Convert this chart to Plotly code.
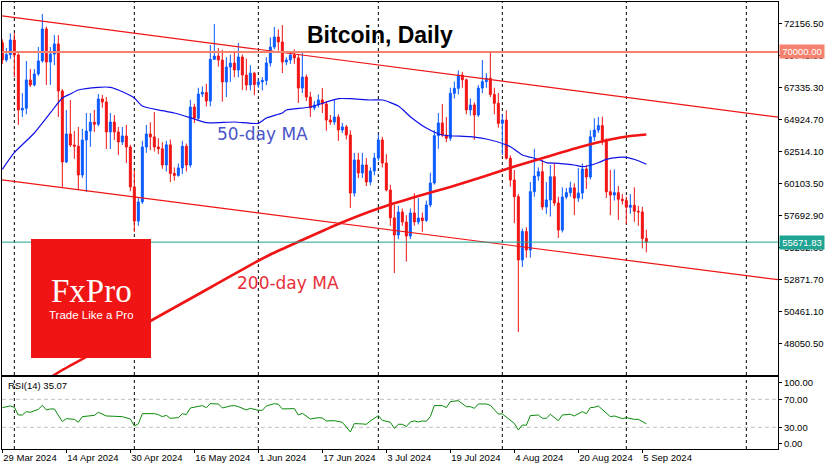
import pandas as pd
import plotly.graph_objects as go

# ---------------- data ----------------
start_date = "2024-03-29"

opens = [70700, 69400, 69800, 70900, 69770, 65630, 65750, 67890, 67510, 68340,
         69320, 71730, 69240, 69840, 70600, 67060, 61710, 63820, 62990, 62900,
         60730, 63370, 64040, 64700, 64550, 66460, 66230, 63970, 64720, 63970,
         63220, 63670, 62840, 59830, 57260, 58700, 62840, 63820, 63600, 62840,
         62700, 61480, 63000, 60850, 60700, 61260, 62900, 61480, 65850, 65000,
         66830, 66950, 66300, 69440, 69690, 69390, 67740, 68860, 69160, 68640,
         69620, 68260, 67510, 68400, 67550, 67740, 67850, 69170, 70370, 71120,
         70750, 69240, 69390, 69770, 69550, 67280, 68110, 66600, 65780, 66000,
         66380, 66080, 64870, 64720, 65100, 64120, 64350, 63740, 59370, 61860,
         60880, 61480, 60200, 61030, 62010, 63370, 61630, 59600, 57500, 56210,
         57940, 57190, 56130, 57870, 57190, 57490, 57300, 58470, 60130, 63690,
         64650, 63740, 63500, 66880, 67260, 68260, 67900, 65630, 66000, 65250,
         67280, 67760, 68020, 66800, 66130, 64620, 64870, 61990, 60350, 59100,
         54330, 56470, 55080, 59470, 60650, 60980, 58320, 58850, 60600, 58620,
         56580, 59070, 59400, 59760, 58990, 59370, 61180, 60580, 63610, 64120,
         64450, 63370, 59470, 59220, 59400, 58900, 58800, 58300, 58450, 58000,
         57950, 55950]
highs = [70950, 70300, 71400, 71430, 69900, 66900, 69320, 68710, 68710, 70370,
         72860, 71900, 70370, 71270, 71270, 67200, 65630, 66380, 64050, 64350,
         64200, 65400, 65400, 65630, 66830, 66760, 66600, 65400, 65250, 64350,
         64350, 64500, 63000, 61100, 59000, 63300, 64500, 64700, 65470, 63500,
         63200, 63300, 63400, 61300, 61600, 63300, 63100, 66400, 66100, 67300,
         67400, 67600, 70520, 72100, 70300, 70150, 69600, 69800, 70000, 70670,
         69800, 69500, 69000, 68500, 67950, 68100, 69600, 71100, 71880, 71700,
         72030, 69600, 70000, 70200, 69800, 69920, 68300, 67000, 66300, 66800,
         67280, 66300, 65250, 66380, 65300, 64650, 64500, 64100, 62390, 62390,
         62390, 62000, 61300, 62390, 63820, 63600, 62300, 60000, 58500, 58400,
         58200, 57700, 58200, 59370, 58990, 57900, 58800, 60900, 64100, 65400,
         66080, 65100, 67300, 67760, 68600, 68500, 68000, 66500, 66200, 67500,
         69390, 68400, 70000, 67300, 66900, 65300, 65600, 62200, 61100, 59300,
         56700, 56800, 60200, 62700, 61300, 61860, 60200, 61480, 61630, 59100,
         59800, 59750, 60230, 60100, 61260, 61600, 61480, 64100, 65000, 65100,
         65120, 63500, 61110, 61150, 59900, 59300, 59100, 59300, 59800, 58400,
         58330, 56600]
lows = [69100, 69250, 69470, 68100, 64500, 65100, 65300, 67360, 67400, 68200,
        69200, 67510, 67510, 69000, 65100, 59830, 61630, 62840, 61950, 59600,
        60500, 59450, 62850, 63970, 64400, 65800, 62690, 62690, 63370, 62240,
        63000, 61630, 59500, 56440, 56900, 58550, 62400, 62600, 62500, 62300,
        61200, 61000, 60200, 60300, 60600, 60800, 61000, 61300, 64650, 64900,
        66600, 65900, 65900, 69390, 68900, 66250, 66600, 67740, 68100, 68100,
        67130, 67100, 67100, 66740, 67300, 67100, 67500, 68900, 70200, 70100,
        68410, 69000, 69100, 69100, 66150, 66900, 66300, 65100, 65600, 65800,
        65400, 64060, 64500, 64500, 63300, 63900, 63400, 58250, 59100, 60500,
        60500, 59900, 59950, 60700, 61800, 61300, 59500, 56900, 53350, 55900,
        56900, 54200, 55900, 56900, 57000, 56440, 57200, 58300, 60000, 62700,
        63600, 63200, 63300, 66500, 66800, 67300, 65300, 65200, 63370, 65100,
        66900, 67300, 66600, 65300, 64300, 62240, 61900, 59850, 57100, 48900,
        53800, 54500, 54500, 59100, 60300, 58100, 57800, 57600, 58400, 55980,
        56400, 58900, 59100, 57710, 58700, 58900, 59680, 60400, 63300, 63900,
        63000, 59000, 57700, 58800, 57350, 58500, 57050, 57800, 57200, 56900,
        55200, 54900]
closes = [69400, 69800, 70900, 69770, 65630, 65750, 67890, 67510, 68340, 69320,
          71730, 69240, 69840, 70600, 67060, 61710, 63820, 62990, 62900, 60730,
          63370, 64040, 64700, 64550, 66460, 66230, 63970, 64720, 63970, 63220,
          63670, 62840, 59830, 57260, 58700, 62840, 63820, 63600, 62840, 62700,
          61480, 63000, 60850, 60700, 61260, 62900, 61480, 65850, 65000, 66830,
          66950, 66300, 69440, 69690, 69390, 67740, 68860, 69160, 68640, 69620,
          68260, 67510, 68400, 67550, 67740, 67850, 69170, 70370, 71120, 70750,
          69240, 69390, 69770, 69550, 67280, 68110, 66600, 65780, 66000, 66380,
          66080, 64870, 64720, 65100, 64120, 64350, 63740, 59370, 61860, 60880,
          61480, 60200, 61030, 62010, 63370, 61630, 59600, 57500, 56210, 57940,
          57190, 56130, 57870, 57190, 57490, 57300, 58470, 60130, 63690, 64650,
          63740, 63500, 66880, 67260, 68260, 67900, 65630, 66000, 65250, 67280,
          67760, 68020, 66800, 66130, 64620, 64870, 61990, 60350, 59100, 54330,
          56470, 55080, 59470, 60650, 60980, 58320, 58850, 60600, 58620, 56580,
          59070, 59400, 59760, 58990, 59370, 61180, 60580, 63610, 64120, 64450,
          63370, 59470, 59220, 59400, 58900, 58800, 58300, 58450, 58000, 57950,
          55950, 55671.83]

# moving averages (day index from start_date, price)
ma50_day = [0, 3, 8, 12, 15, 17, 19, 24, 27, 29, 33, 35, 40, 43, 48, 51, 58, 64,
            66, 70, 71, 77, 84, 87, 92, 95, 99, 102, 106, 110, 117, 122, 127,
            130, 134, 136, 139, 143, 145, 149, 151, 154, 156, 159, 161]
ma50_val = [61158, 62409, 63893, 65405, 66529, 66831, 67132, 67335, 67335, 67132,
            66529, 65927, 65573, 65400, 64948, 64669, 64721, 64624, 65023, 65400,
            65626, 65852, 66477, 66477, 66379, 66379, 65927, 65121, 64270, 63742,
            63614, 63365, 62861, 62236, 61912, 61656, 61611, 61482, 61354, 61656,
            61912, 62063, 62063, 61807, 61535]
ma200_day = [12, 15, 25, 37, 50, 62, 67, 75, 84, 94, 104, 112, 120, 128, 136,
             144, 152, 157, 161]
ma200_val = [45474, 46040, 47697, 49731, 51915, 53949, 54740, 55832, 57038, 58205,
             59147, 59825, 60578, 61369, 62085, 62800, 63403, 63666, 63779]

# RSI(14)
rsi_day = [0, 2, 3, 4, 5, 6, 7, 8, 9, 10, 11, 12, 13, 15, 16, 18, 19, 20, 22, 23,
           24, 26, 28, 30, 32, 33, 34, 35, 38, 39, 40, 41, 42, 44, 45, 46, 47, 49,
           50, 51, 52, 54, 55, 57, 58, 59, 61, 62, 64, 65, 66, 68, 69, 70, 73, 74,
           75, 77, 79, 80, 81, 83, 84, 85, 87, 88, 90, 91, 92, 94, 95, 97, 98, 99,
           100, 101, 102, 103, 104, 105, 106, 107, 108, 110, 111, 112, 114, 116,
           117, 118, 119, 121, 122, 124, 125, 127, 128, 129, 130, 131, 132, 134,
           135, 136, 137, 139, 140, 142, 143, 145, 146, 147, 148, 149, 152, 153,
           155, 156, 158, 159, 161]
rsi_val = [58.1, 60.5, 58.6, 47.6, 47.6, 52.4, 51.4, 53.8, 55.7, 61.4, 54.8, 56.2,
           56.2, 38.1, 42.4, 41.4, 37.2, 45.2, 47.1, 47.1, 51.4, 46.2, 45.7, 45.2,
           41.9, 31.9, 34.8, 49.5, 49.5, 48.1, 45.2, 47.1, 42.9, 43.8, 49.5, 48.1,
           57.6, 59.5, 61.0, 58.1, 63.8, 63.3, 57.6, 60.5, 61.0, 59.5, 54.8, 57.1,
           54.3, 54.3, 60.5, 63.8, 62.9, 56.2, 56.7, 47.6, 50.0, 41.9, 43.8, 43.3,
           39.1, 39.5, 38.1, 37.2, 23.4, 35.3, 34.8, 34.3, 39.1, 46.7, 40.0, 37.2,
           28.6, 34.3, 34.3, 31.0, 37.6, 39.1, 37.6, 39.1, 38.6, 45.2, 61.0, 61.0,
           58.1, 66.7, 68.1, 59.5, 59.5, 57.1, 63.3, 63.3, 61.4, 49.0, 49.0, 39.5,
           35.7, 26.2, 33.3, 32.9, 46.7, 47.6, 42.9, 42.9, 48.6, 39.5, 47.6, 48.6,
           46.2, 52.4, 49.5, 58.1, 58.6, 60.5, 45.2, 46.2, 42.4, 43.8, 41.4, 41.4,
           35.07]

price_ticks = [72156.5, 69745.9, 67335.3, 64924.7, 62514.1, 60103.5, 57692.9,
               55282.3, 52871.7, 50461.1, 48050.5]
date_ticks = ["2024-03-29", "2024-04-14", "2024-04-30", "2024-05-16", "2024-06-01",
              "2024-06-17", "2024-07-03", "2024-07-19", "2024-08-04", "2024-08-20",
              "2024-09-05"]
date_tick_labels = ["29 Mar 2024", "14 Apr 2024", "30 Apr 2024", "16 May 2024",
                    "1 Jun 2024", "17 Jun 2024", "3 Jul 2024", "19 Jul 2024",
                    "4 Aug 2024", "20 Aug 2024", "5 Sep 2024"]
month_starts = ["2024-04-01", "2024-05-01", "2024-06-01", "2024-07-01",
                "2024-08-01", "2024-09-01", "2024-10-01"]
level_price = 70000.0
last_price = 55671.83
channel_dates = ["2024-03-28 22:00", "2024-10-08 22:00"]
channel_upper = [72714, 65090]
channel_lower = [60360, 52842]
rsi_levels = [70, 30]
rsi_tickvals = [93.7, 70, 30, 7.1]
rsi_ticktext = ["100.00", "70.00", "30.00", "0.00"]
x_range = ["2024-03-28 22:00", "2024-10-08 22:00"]
y_range = [45662, 73761]
rsi_range = [-1.0, 101.9]

# ---------------- figure ----------------
t0 = pd.Timestamp(start_date)
dates = pd.date_range(start_date, periods=len(closes), freq="D")
ma50_x = [t0 + pd.Timedelta(days=d) for d in ma50_day]
ma200_x = [t0 + pd.Timedelta(days=d) for d in ma200_day]
rsi_x = [t0 + pd.Timedelta(days=d) for d in rsi_day]

BULL = "#0a5aff"
BEAR = "#f01414"
FONT = "Liberation Sans"

fig = go.Figure()

fig.add_trace(go.Candlestick(
    x=dates, open=opens, high=highs, low=lows, close=closes,
    increasing=dict(line=dict(color=BULL, width=1), fillcolor=BULL),
    decreasing=dict(line=dict(color=BEAR, width=1), fillcolor=BEAR),
    xaxis="x", yaxis="y", showlegend=False, hoverinfo="skip"))

fig.add_trace(go.Scatter(x=ma50_x, y=ma50_val, mode="lines",
                         line=dict(color="#1010e8", width=1.2, shape="spline", smoothing=0.6),
                         xaxis="x", yaxis="y", showlegend=False, hoverinfo="skip"))
fig.add_trace(go.Scatter(x=ma200_x, y=ma200_val, mode="lines",
                         line=dict(color="#f01414", width=2.6, shape="spline", smoothing=0.6),
                         xaxis="x", yaxis="y", showlegend=False, hoverinfo="skip"))
for ch in (channel_upper, channel_lower):
    fig.add_trace(go.Scatter(x=channel_dates, y=ch, mode="lines",
                             line=dict(color="#f01414", width=1.2),
                             xaxis="x", yaxis="y", showlegend=False, hoverinfo="skip"))

fig.add_trace(go.Scatter(x=rsi_x, y=rsi_val, mode="lines",
                         line=dict(color="#0a8a0a", width=1),
                         xaxis="x2", yaxis="y2", showlegend=False, hoverinfo="skip"))

shapes = []
for d in month_starts:
    for yr in ("y domain", "y2 domain"):
        shapes.append(dict(type="line", xref="x", yref=yr, x0=d, x1=d, y0=0, y1=1,
                           line=dict(color="black", width=1, dash="3px,3px"), layer="below"))
for lv in rsi_levels:
    shapes.append(dict(type="line", xref="x domain", yref="y2", x0=0, x1=1, y0=lv, y1=lv,
                       line=dict(color="#c0c0c0", width=1, dash="4px,3px"), layer="below"))
shapes.append(dict(type="line", xref="x domain", yref="y", x0=0, x1=1,
                   y0=level_price, y1=level_price,
                   line=dict(color="#f5826f", width=2), layer="above"))
shapes.append(dict(type="line", xref="x domain", yref="y", x0=0, x1=1,
                   y0=last_price, y1=last_price,
                   line=dict(color="#1fa393", width=1), layer="above"))
# FxPro logo block
shapes.append(dict(type="rect", xref="paper", yref="paper", x0=0.0374, x1=0.192,
                   y0=0.2036, y1=0.4698, fillcolor="#f01414", line=dict(width=0),
                   layer="above"))


def label(text, x, y, size, color, family=FONT, xanchor="center", **kw):
    return dict(text=text, xref="paper", yref="paper", x=x, y=y, xanchor=xanchor,
                yanchor="middle", showarrow=False,
                font=dict(family=family, size=size, color=color), **kw)


annotations = [
    label("<b>Bitcoin, Daily</b>", 0.487, 0.926, 23, "black"),
    label("50-day MA", 0.3363, 0.7047, 17, "#4a55c8", family="DejaVu Sans"),
    label("200-day MA", 0.3686, 0.3714, 17, "#e8303a", family="DejaVu Sans"),
    label("FxPro", 0.1147, 0.3535, 33, "white", family="Liberation Serif", height=32),
    label("Trade Like a Pro", 0.1147, 0.300, 11.5, "white", height=13),
    label("RSI(14) 35.07", 0.0048, 0.141, 9.5, "black", xanchor="left"),
    dict(text="70000.00", xref="paper", yref="y", x=1.0, y=level_price, xanchor="left",
         yanchor="middle", xshift=1, showarrow=False, bgcolor="#f5826f", borderpad=1,
         width=42, font=dict(family=FONT, size=9.5, color="white")),
    dict(text="55671.83", xref="paper", yref="y", x=1.0, y=last_price, xanchor="left",
         yanchor="middle", xshift=1, showarrow=False, bgcolor="#1fa393", borderpad=1,
         width=42, font=dict(family=FONT, size=9.5, color="white")),
]

axis_common = dict(showgrid=False, zeroline=False, showline=True, mirror=True,
                   linecolor="black", linewidth=1)

fig.update_layout(
    width=835, height=470,
    margin=dict(l=2, r=57, t=2, b=21),
    paper_bgcolor="white", plot_bgcolor="white",
    showlegend=False,
    font=dict(family=FONT, size=9.5, color="black"),
    xaxis=dict(domain=[0, 1], anchor="y", type="date", range=x_range,
               showticklabels=False, ticks="", rangeslider=dict(visible=False),
               **axis_common),
    xaxis2=dict(domain=[0, 1], anchor="y2", type="date", range=x_range, matches="x",
                tickvals=date_ticks, ticktext=date_tick_labels, ticks="outside",
                ticklen=3, tickcolor="black", ticklabelposition="outside right",
                tickfont=dict(family=FONT, size=9.5, color="black"), **axis_common),
    yaxis=dict(domain=[0.1655, 1], anchor="x", side="right", range=y_range,
               tickvals=price_ticks, tickformat=".2f", ticks="outside", ticklen=3,
               tickcolor="black", tickfont=dict(family=FONT, size=9.5, color="black"),
               **axis_common),
    yaxis2=dict(domain=[0, 0.1611], anchor="x2", side="right", range=rsi_range,
                tickvals=rsi_tickvals, ticktext=rsi_ticktext, ticks="outside",
                ticklen=3, tickcolor="black",
                tickfont=dict(family=FONT, size=9.5, color="black"), **axis_common),
    shapes=shapes,
    annotations=annotations,
)

fig.write_html("out.html", config={"displayModeBar": False},
               post_script="document.body.style.margin='0px';")
